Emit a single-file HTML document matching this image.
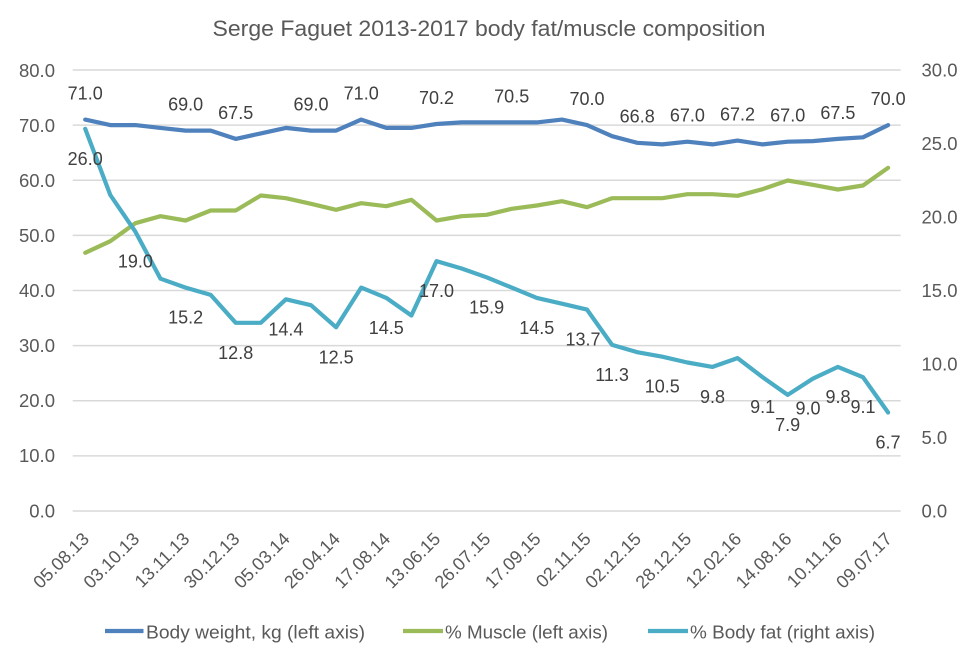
<!DOCTYPE html>
<html>
<head>
<meta charset="utf-8">
<style>
html,body{margin:0;padding:0;background:#fff;}
svg{display:block;}
text{font-family:"Liberation Sans",Arial,sans-serif;}
</style>
</head>
<body>
<svg width="978" height="662" viewBox="0 0 978 662" xmlns="http://www.w3.org/2000/svg">
<rect width="978" height="662" fill="#ffffff"/>
<!-- title -->
<text x="489" y="36" font-size="22" fill="#595959" text-anchor="middle" textLength="553" lengthAdjust="spacingAndGlyphs">Serge Faguet 2013-2017 body fat/muscle composition</text>

<!-- gridlines -->
<g stroke="#d9d9d9" stroke-width="1.5">
<line x1="72.7" y1="70" x2="900.7" y2="70"/>
<line x1="72.7" y1="125.1" x2="900.7" y2="125.1"/>
<line x1="72.7" y1="180.25" x2="900.7" y2="180.25"/>
<line x1="72.7" y1="235.4" x2="900.7" y2="235.4"/>
<line x1="72.7" y1="290.5" x2="900.7" y2="290.5"/>
<line x1="72.7" y1="345.6" x2="900.7" y2="345.6"/>
<line x1="72.7" y1="400.75" x2="900.7" y2="400.75"/>
<line x1="72.7" y1="455.9" x2="900.7" y2="455.9"/>
<line x1="72.7" y1="511" x2="900.7" y2="511"/>
</g>

<!-- left axis labels -->
<g font-size="18.5" fill="#595959" text-anchor="end">
<text x="55" y="77">80.0</text>
<text x="55" y="132">70.0</text>
<text x="55" y="187">60.0</text>
<text x="55" y="242">50.0</text>
<text x="55" y="297">40.0</text>
<text x="55" y="352">30.0</text>
<text x="55" y="407">20.0</text>
<text x="55" y="462">10.0</text>
<text x="55" y="517.5">0.0</text>
</g>
<!-- right axis labels -->
<g font-size="18.5" fill="#595959" text-anchor="start">
<text x="921.5" y="76.5">30.0</text>
<text x="921.5" y="150">25.0</text>
<text x="921.5" y="223.5">20.0</text>
<text x="921.5" y="297">15.0</text>
<text x="921.5" y="370.5">10.0</text>
<text x="921.5" y="444">5.0</text>
<text x="921.5" y="517.5">0.0</text>
</g>

<!-- x axis labels -->
<g font-size="18" fill="#595959" text-anchor="end">
<text transform="translate(90.2,540) rotate(-45)">05.08.13</text>
<text transform="translate(140.4,540) rotate(-45)">03.10.13</text>
<text transform="translate(190.6,540) rotate(-45)">13.11.13</text>
<text transform="translate(240.7,540) rotate(-45)">30.12.13</text>
<text transform="translate(290.9,540) rotate(-45)">05.03.14</text>
<text transform="translate(341.1,540) rotate(-45)">26.04.14</text>
<text transform="translate(391.3,540) rotate(-45)">17.08.14</text>
<text transform="translate(441.5,540) rotate(-45)">13.06.15</text>
<text transform="translate(491.6,540) rotate(-45)">26.07.15</text>
<text transform="translate(541.8,540) rotate(-45)">17.09.15</text>
<text transform="translate(592,540) rotate(-45)">02.11.15</text>
<text transform="translate(642.2,540) rotate(-45)">02.12.15</text>
<text transform="translate(692.4,540) rotate(-45)">28.12.15</text>
<text transform="translate(742.5,540) rotate(-45)">12.02.16</text>
<text transform="translate(792.7,540) rotate(-45)">14.08.16</text>
<text transform="translate(842.9,540) rotate(-45)">10.11.16</text>
<text transform="translate(893.1,540) rotate(-45)">09.07.17</text>
</g>

<!-- series -->
<g fill="none" stroke-width="4.2" stroke-linejoin="round" stroke-linecap="round">
<polyline stroke="#9BBB59" points="85.2,252.8 110.3,241.2 135.4,223.2 160.5,216.2 185.6,220.5 210.7,210.5 235.7,210.5 260.8,195.5 285.9,198.2 311,203.8 336.1,209.8 361.2,203.2 386.3,206.2 411.4,199.8 436.5,220.5 461.6,216.2 486.6,214.8 511.7,208.8 536.8,205.5 561.9,201.2 587,207.2 612.1,198.2 637.2,198.2 662.3,198.2 687.4,194.2 712.5,194.2 737.5,195.8 762.6,189.2 787.7,180.5 812.8,184.8 837.9,189.5 863,185.5 888.1,167.8"/>
<polyline stroke="#4F81BD" points="85.2,119.6 110.3,125.1 135.4,125.1 160.5,127.9 185.6,130.6 210.7,130.6 235.7,138.9 260.8,133.4 285.9,127.9 311,130.6 336.1,130.6 361.2,119.6 386.3,127.9 411.4,127.9 436.5,124 461.6,122.4 486.6,122.4 511.7,122.4 536.8,122.4 561.9,119.6 587,125.1 612.1,136.2 637.2,142.8 662.3,144.4 687.4,141.7 712.5,144.4 737.5,140.6 762.6,144.4 787.7,141.7 812.8,141.1 837.9,138.9 863,137.3 888.1,125.1"/>
<polyline stroke="#4BACC6" points="85.2,128.8 110.3,195 135.4,231.7 160.5,278.7 185.6,287.6 210.7,294.9 235.7,322.8 260.8,322.8 285.9,299.3 311,305.2 336.1,327.3 361.2,287.6 386.3,297.9 411.4,315.5 436.5,261.1 461.6,268.5 486.6,277.3 511.7,287.6 536.8,297.9 561.9,303.7 587,309.6 612.1,344.9 637.2,352.2 662.3,356.7 687.4,362.5 712.5,366.9 737.5,358.1 762.6,377.2 787.7,394.9 812.8,378.7 837.9,366.9 863,377.2 888.1,412.5"/>
</g>

<!-- weight labels -->
<g font-size="18" fill="#404040" text-anchor="middle">
<text x="85.2" y="99.6">71.0</text>
<text x="185.6" y="110.6">69.0</text>
<text x="235.7" y="118.9">67.5</text>
<text x="311" y="110.6">69.0</text>
<text x="361.2" y="99.6">71.0</text>
<text x="436.5" y="104">70.2</text>
<text x="511.7" y="102.4">70.5</text>
<text x="587" y="105.1">70.0</text>
<text x="637.2" y="122.3">66.8</text>
<text x="687.4" y="121.7">67.0</text>
<text x="737.5" y="120.6">67.2</text>
<text x="787.7" y="121.7">67.0</text>
<text x="837.9" y="118.9">67.5</text>
<text x="888.1" y="105.1">70.0</text>
</g>

<!-- fat labels -->
<g font-size="18" fill="#404040" text-anchor="middle">
<text x="85.2" y="164.8">26.0</text>
<text x="135.4" y="267.7">19.0</text>
<text x="185.6" y="323.6">15.2</text>
<text x="235.7" y="358.8">12.8</text>
<text x="285.9" y="335.3">14.4</text>
<text x="336.1" y="363.3">12.5</text>
<text x="386.3" y="333.9">14.5</text>
<text x="436.5" y="297.1">17.0</text>
<text x="486.6" y="313.3">15.9</text>
<text x="536.8" y="333.9">14.5</text>
<text x="583" y="345.6">13.7</text>
<text x="612.1" y="380.9">11.3</text>
<text x="662.3" y="392.7">10.5</text>
<text x="712.5" y="402.9">9.8</text>
<text x="762.6" y="413.2">9.1</text>
<text x="787.7" y="430.9">7.9</text>
<text x="808" y="414.7">9.0</text>
<text x="838" y="402.9">9.8</text>
<text x="863" y="413.2">9.1</text>
<text x="888" y="448.5">6.7</text>
</g>

<!-- legend -->
<g stroke-width="4.2">
<line x1="105" y1="631" x2="143.5" y2="631" stroke="#4F81BD"/>
<line x1="403" y1="631" x2="443" y2="631" stroke="#9BBB59"/>
<line x1="648" y1="631" x2="688" y2="631" stroke="#4BACC6"/>
</g>
<g font-size="18.5" fill="#595959">
<text x="146" y="638.5" textLength="219" lengthAdjust="spacingAndGlyphs">Body weight, kg (left axis)</text>
<text x="445" y="638.5" textLength="163" lengthAdjust="spacingAndGlyphs">% Muscle (left axis)</text>
<text x="690" y="638.5" textLength="185" lengthAdjust="spacingAndGlyphs">% Body fat (right axis)</text>
</g>
</svg>
</body>
</html>
